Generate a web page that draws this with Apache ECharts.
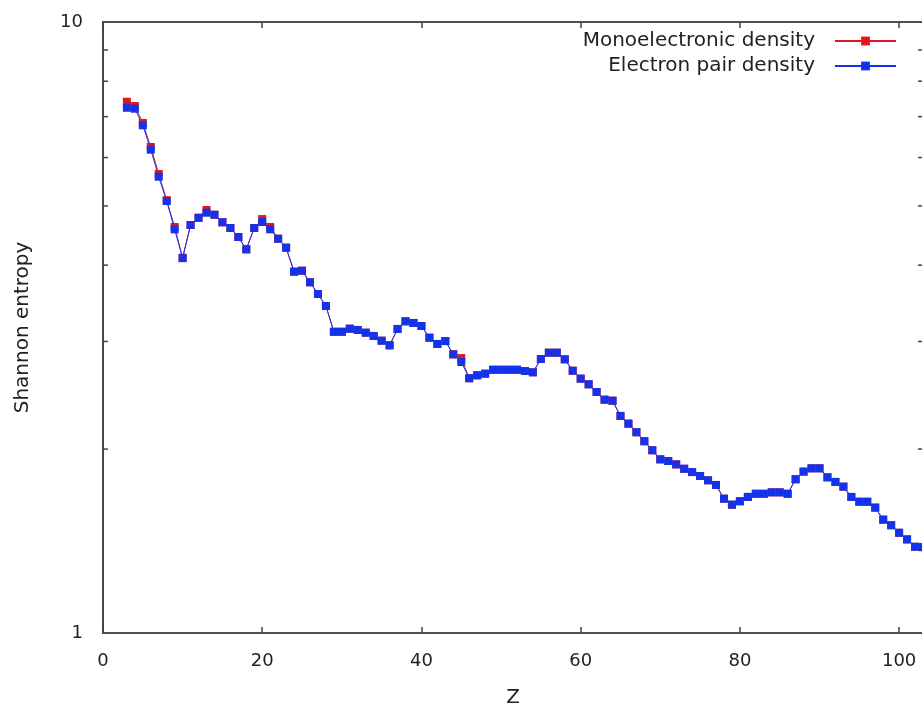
<!DOCTYPE html>
<html>
<head>
<meta charset="utf-8">
<script src="https://cdn.jsdelivr.net/npm/echarts@6/dist/echarts.min.js"></script>
<style>html,body{margin:0;padding:0;background:#fff;}#chart{width:922px;height:707px;}</style>
</head>
<body>
<div id="chart"></div>
<script>
// Atomic number Z
const zValues = [3,4,5,6,7,8,9,10,11,12,13,14,15,16,17,18,19,20,21,22,23,24,25,26,27,28,29,30,31,32,33,34,35,36,37,38,39,40,41,42,43,44,45,46,47,48,49,50,51,52,53,54,55,56,57,58,59,60,61,62,63,64,65,66,67,68,69,70,71,72,73,74,75,76,77,78,79,80,81,82,83,84,85,86,87,88,89,90,91,92,93,94,95,96,97,98,99,100,101,102,103];
// Electron pair density Shannon entropy
const pairValues = [7.238,7.212,6.775,6.180,5.582,5.093,4.578,4.106,4.653,4.782,4.874,4.837,4.701,4.601,4.447,4.246,4.601,4.706,4.578,4.419,4.272,3.903,3.917,3.750,3.588,3.429,3.112,3.112,3.148,3.133,3.101,3.063,3.009,2.957,3.145,3.237,3.217,3.180,3.043,2.972,3.005,2.858,2.777,2.612,2.641,2.657,2.697,2.697,2.697,2.697,2.684,2.671,2.808,2.876,2.876,2.805,2.687,2.608,2.553,2.480,2.409,2.400,2.266,2.201,2.131,2.060,1.991,1.924,1.912,1.888,1.857,1.834,1.807,1.778,1.747,1.659,1.622,1.643,1.670,1.690,1.690,1.699,1.699,1.690,1.785,1.837,1.860,1.860,1.798,1.767,1.736,1.670,1.640,1.640,1.604,1.533,1.501,1.459,1.423,1.384,1.382];
// Monoelectronic density Shannon entropy
const monoValues = [7.405,7.286,6.835,6.243,5.639,5.110,4.618,4.115,4.653,4.782,4.924,4.837,4.701,4.601,4.447,4.246,4.601,4.759,4.618,4.419,4.272,3.903,3.917,3.750,3.588,3.429,3.112,3.112,3.148,3.133,3.101,3.063,3.009,2.957,3.145,3.237,3.217,3.180,3.043,2.972,3.005,2.858,2.818,2.612,2.641,2.657,2.697,2.697,2.697,2.697,2.684,2.671,2.808,2.876,2.876,2.805,2.687,2.608,2.553,2.480,2.409,2.400,2.266,2.201,2.131,2.060,1.991,1.924,1.912,1.888,1.857,1.834,1.807,1.778,1.747,1.659,1.622,1.643,1.670,1.690,1.690,1.699,1.699,1.690,1.785,1.837,1.860,1.860,1.798,1.767,1.736,1.670,1.640,1.640,1.604,1.533,1.501,1.459,1.423,1.384,1.382];
const xTickLabels = [0,20,40,60,80,100];
const yMinorTicks = [2,3,4,5,6,7,8,9];
const xMin = 0, xMax = 103, yMin = 1, yMax = 10;

const chart = echarts.init(document.getElementById('chart'), null, {renderer: 'canvas'});
const FONT = 'DejaVu Sans';
const axisColor = '#444';
const textColor = '#222';
const redColor = '#e3161e';
const blueColor = '#1432ea';

function pairs(ys) { return zValues.map((z, i) => [z, ys[i]]); }

const legendCommon = {right: 25, align: 'right', itemWidth: 61, itemHeight: 11, padding: 0,
  textStyle: {fontFamily: FONT, fontSize: 20, color: textColor, padding: [0, 15, 0, 0]}};

const option = {
  backgroundColor: '#fff',
  animation: false,
  textStyle: {fontFamily: FONT},
  grid: {left: 103, right: -1, top: 22, bottom: 74, outerBoundsMode: 'none', containLabel: false,
         show: true, borderColor: axisColor, borderWidth: 1.5, backgroundColor: 'transparent'},
  legend: [
    Object.assign({data: ['Monoelectronic density'], top: 31}, legendCommon),
    Object.assign({data: ['Electron pair density'], top: 56}, legendCommon)
  ],
  xAxis: [
    {type: 'value', min: xMin, max: xMax, interval: 20, position: 'bottom',
     name: 'Z', nameLocation: 'middle', nameGap: 55,
     nameTextStyle: {fontFamily: FONT, fontSize: 20, color: textColor},
     axisLine: {show: true, lineStyle: {color: axisColor, width: 1.5}},
     axisTick: {show: true, inside: true, length: 6, lineStyle: {color: axisColor, width: 1.5}},
     axisLabel: {fontFamily: FONT, fontSize: 18, color: textColor, margin: 19,
       formatter: v => (xTickLabels.indexOf(v) >= 0 ? String(v) : '')},
     splitLine: {show: false}},
    {type: 'value', min: xMin, max: xMax, interval: 20, position: 'top',
     axisLine: {show: true, lineStyle: {color: axisColor, width: 1.5}},
     axisTick: {show: true, inside: true, length: 6, lineStyle: {color: axisColor, width: 1.5}},
     axisLabel: {show: false}, splitLine: {show: false}}
  ],
  yAxis: [
    {type: 'log', logBase: 10, min: yMin, max: yMax, position: 'left',
     name: 'Shannon entropy', nameLocation: 'middle', nameGap: 70,
     nameTextStyle: {fontFamily: FONT, fontSize: 20, color: textColor},
     axisLine: {show: true, lineStyle: {color: axisColor, width: 1.5}},
     axisTick: {show: false},
     axisLabel: {fontFamily: FONT, fontSize: 18, color: textColor, margin: 20},
     splitLine: {show: false}},
    {type: 'log', logBase: 10, min: yMin, max: yMax, position: 'right',
     axisLine: {show: true, lineStyle: {color: axisColor, width: 1.5}},
     axisTick: {show: false}, axisLabel: {show: false}, splitLine: {show: false}}
  ],
  series: [
    {name: 'Monoelectronic density', type: 'line', data: pairs(monoValues),
     symbol: 'rect', symbolSize: 8, showAllSymbol: true, clip: true,
     itemStyle: {color: redColor}, lineStyle: {color: redColor, width: 1}},
    {name: 'Electron pair density', type: 'line', data: pairs(pairValues),
     symbol: 'rect', symbolSize: 8, showAllSymbol: true, clip: true,
     itemStyle: {color: blueColor}, lineStyle: {color: blueColor, width: 1}},
    {name: 'minorTicks', type: 'custom', silent: true, clip: false,
     data: yMinorTicks.map(v => [xMin, v]),
     renderItem: function (params, api) {
       const v = api.value(1);
       const l = api.coord([xMin, v]);
       const r = api.coord([xMax, v]);
       return {type: 'group', children: [
         {type: 'line', shape: {x1: l[0], y1: l[1], x2: l[0] + 5, y2: l[1]}, style: {stroke: axisColor, lineWidth: 1.5}},
         {type: 'line', shape: {x1: r[0], y1: r[1], x2: r[0] - 5, y2: r[1]}, style: {stroke: axisColor, lineWidth: 1.5}}
       ]};
     }}
  ]
};
chart.setOption(option);
</script>
</body>
</html>
